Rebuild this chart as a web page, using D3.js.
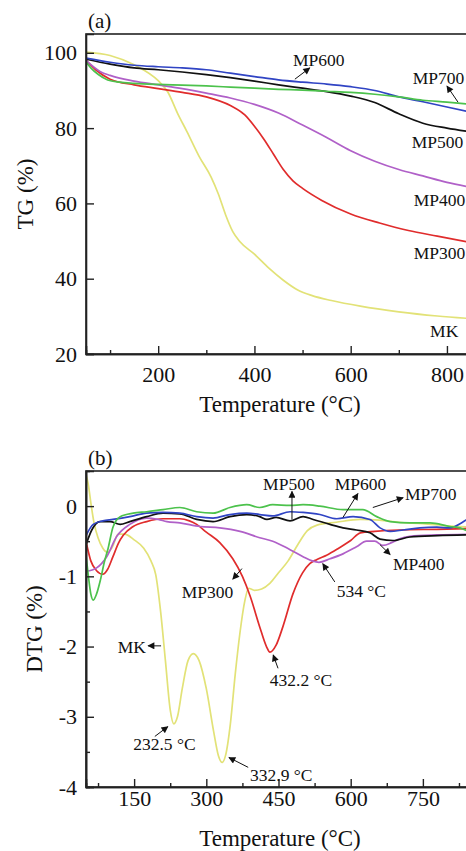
<!DOCTYPE html>
<html><head><meta charset="utf-8">
<script src="https://cdn.jsdelivr.net/npm/d3@7/dist/d3.min.js"></script>
<style>html,body{margin:0;padding:0;background:#fff;overflow:hidden}svg{display:block}svg text{font-family:"Liberation Serif","Times New Roman",serif !important;fill:#111}</style>
</head><body>
<svg id="c" width="466" height="851" font-family="Liberation Serif"></svg>
<script>
// ---------- Data ----------
const seriesNames = ["MK","MP300","MP400","MP500","MP600","MP700"];
const seriesColors = ["#e2e277","#e02c2c","#b060c8","#111111","#3044c4","#4cc24c"];

// TG (%) vs temperature (°C)
const tgMK    = [[50,100.2],[100,99.3],[150,96.8],[200,92.6],[220,89.6],[240,84],[260,79],[285,72.5],[310,67],[325,62.5],[340,57],[355,52.5],[370,49.8],[400,46.5],[430,42.8],[460,39.6],[490,37],[520,35.5],[560,34.2],[620,32.7],[700,31.2],[780,30.1],[850,29.4]];
const tgMP300 = [[50,98],[70,95.5],[100,93],[150,91.5],[200,90.5],[250,89.5],[300,88.3],[350,86],[380,83.5],[400,80.5],[420,77],[440,73],[460,69],[480,66],[500,64],[540,60.8],[600,57.2],[660,54.8],[720,52.8],[780,51.3],[850,49.6]];
const tgMP400 = [[50,98],[80,95],[100,94],[150,92.5],[200,91.5],[250,90.5],[300,89.3],[350,88],[400,86.3],[450,84],[500,80.8],[550,77.5],[600,74],[650,71.2],[700,69],[750,67.3],[800,65.6],[850,64.3]];
const tgMP500 = [[50,98.3],[100,97],[150,96],[200,95.5],[250,94.9],[300,94.2],[350,93.4],[400,92.5],[450,91.5],[500,90.6],[550,89.7],[600,88.5],[650,86.8],[700,83.8],[750,81.3],[800,80],[850,79]];
const tgMP600 = [[50,98.6],[100,97.5],[150,96.7],[200,96.3],[250,96],[300,95.5],[350,94.6],[400,93.7],[450,92.8],[500,92.2],[550,91.7],[600,91],[650,90],[700,88.3],[750,87],[800,85.6],[850,84.2]];
const tgMP700 = [[50,97.6],[60,96],[75,94.3],[95,92.8],[120,92.2],[150,91.9],[200,91.6],[250,91.4],[300,91.2],[350,90.9],[400,90.6],[450,90.3],[500,90.1],[550,89.8],[600,89.5],[650,89],[700,88.3],[750,87.4],[800,86.9],[850,86.3]];

// DTG (%) vs temperature (°C)
const dtgMK    = [[50,0.45],[55,0.3],[60,0.05],[67,-0.25],[75,-0.45],[85,-0.6],[95,-0.66],[105,-0.58],[117,-0.4],[130,-0.4],[150,-0.48],[170,-0.6],[185,-0.78],[195,-0.98],[205,-1.5],[215,-2.2],[225,-2.9],[232.5,-3.1],[240,-3.0],[250,-2.6],[262,-2.2],[273,-2.1],[285,-2.2],[300,-2.6],[315,-3.2],[325,-3.55],[332.9,-3.65],[340,-3.55],[350,-3.1],[360,-2.4],[370,-1.8],[380,-1.35],[388,-1.17],[400,-1.2],[415,-1.18],[432,-1.1],[450,-0.95],[470,-0.78],[490,-0.55],[510,-0.35],[530,-0.27],[570,-0.23],[620,-0.19],[660,-0.2],[700,-0.23],[750,-0.25],[800,-0.28],[850,-0.3]];
const dtgMP300 = [[50,-0.5],[60,-0.78],[72,-0.92],[85,-0.97],[95,-0.9],[106,-0.72],[118,-0.52],[127,-0.42],[148,-0.29],[176,-0.22],[210,-0.18],[245,-0.18],[265,-0.21],[280,-0.26],[300,-0.37],[328,-0.52],[355,-0.75],[375,-1.0],[391,-1.28],[411,-1.72],[425,-2.0],[432.2,-2.08],[445,-1.98],[459,-1.72],[480,-1.25],[500,-0.95],[515,-0.82],[530,-0.76],[550,-0.7],[575,-0.6],[600,-0.49],[620,-0.38],[650,-0.36],[700,-0.34],[780,-0.33],[850,-0.32]];
const dtgMP400 = [[50,-0.93],[72,-0.88],[93,-0.72],[114,-0.43],[141,-0.26],[176,-0.17],[200,-0.19],[218,-0.22],[245,-0.24],[287,-0.29],[328,-0.31],[370,-0.36],[411,-0.45],[438,-0.5],[474,-0.62],[501,-0.72],[520,-0.78],[534,-0.8],[557,-0.75],[584,-0.68],[612,-0.58],[633,-0.5],[650,-0.5],[667,-0.56],[685,-0.52],[700,-0.47],[723,-0.43],[780,-0.41],[850,-0.4]];
const dtgMP500 = [[50,-0.55],[62,-0.34],[79,-0.22],[100,-0.22],[121,-0.26],[141,-0.22],[176,-0.15],[210,-0.1],[245,-0.11],[280,-0.19],[314,-0.22],[349,-0.15],[384,-0.12],[411,-0.15],[426,-0.19],[445,-0.16],[474,-0.21],[501,-0.15],[522,-0.19],[557,-0.26],[584,-0.31],[612,-0.34],[640,-0.38],[661,-0.47],[688,-0.49],[723,-0.44],[780,-0.42],[850,-0.41]];
const dtgMP600 = [[50,-0.42],[65,-0.26],[85,-0.21],[106,-0.19],[141,-0.15],[176,-0.1],[210,-0.09],[245,-0.1],[280,-0.15],[314,-0.17],[349,-0.12],[384,-0.1],[411,-0.12],[438,-0.14],[474,-0.08],[501,-0.09],[536,-0.12],[571,-0.18],[605,-0.15],[640,-0.19],[661,-0.31],[682,-0.36],[709,-0.34],[744,-0.31],[779,-0.3],[806,-0.31],[830,-0.24],[850,-0.15]];
const dtgMP700 = [[50,-0.7],[55,-1.0],[60,-1.25],[65,-1.34],[72,-1.25],[80,-1.05],[88,-0.8],[96,-0.6],[106,-0.3],[121,-0.15],[148,-0.1],[176,-0.08],[210,-0.05],[245,-0.02],[280,-0.08],[314,-0.1],[349,-0.02],[384,0.02],[411,-0.02],[438,0.02],[474,0.01],[501,0.02],[536,0],[584,-0.05],[625,-0.05],[654,-0.15],[682,-0.22],[723,-0.24],[765,-0.24],[806,-0.29],[827,-0.31],[850,-0.38]];

const tgTicks = [20,40,60,80,100];
const tgXTicks = [200,400,600,800];
const tgXMinor = [100,300,500,700];
const dtgTicks = [-4,-3,-2,-1,0];
const dtgMinor = [-3.5,-2.5,-1.5,-0.5];
const dtgXTicks = [150,300,450,600,750];
const dtgXMinor = [75,225,375,525,675,825];

// Annotations: [text, textT, textV, arrowTailT, arrowTailV, arrowHeadT, arrowHeadV]
const tgNotes = [
  ["MP600",480,96.5,484,93.0,515,96.0],
  ["MP700",729,91.7,823,86.9,800,91.2],
  ["MP500",727,74.7],
  ["MP400",731,59.3],
  ["MP300",731,45.2],
  ["MK",765,24.5]
];
const dtgNotes = [
  ["MP500",418,0.236,478,-0.19,478,0.21],
  ["MP600",567,0.236,584,-0.16,615,0.18],
  ["MP700",713,0.09,646,-0.02,709,0.12],
  ["MP400",688,-0.91,661,-0.55,682,-0.69],
  ["MP300",249,-1.31,374,-0.89,355,-1.04],
  ["534 °C",571,-1.29,567,-1.08,542,-0.82],
  ["432.2 °C",432,-2.56,449,-2.31,439,-2.12],
  ["232.5 °C",148,-3.48,193,-3.28,220,-3.14],
  ["332.9 °C",391,-3.91,387,-3.72,347,-3.58],
  ["MK",116,-2.09,206,-1.99,179,-1.99]
];

// ---------- Drawing ----------
const FONT = "Liberation Serif";
const svg = d3.select("#c");
svg.append("defs").append("marker").attr("id","ah").attr("viewBox","0 0 10 10")
  .attr("refX",9).attr("refY",5).attr("markerWidth",9).attr("markerHeight",7)
  .attr("markerUnits","userSpaceOnUse").attr("orient","auto")
  .append("path").attr("d","M0,0 L10,5 L0,10 Z").attr("fill","#111");

const L = 86, R = 471;
function panel(cfg){
  const x = d3.scaleLinear().domain([50,850]).range([L,R]);
  const y = d3.scaleLinear().domain(cfg.ydom).range([cfg.bottom,cfg.top]);
  const g = svg.append("g").attr("font-family",FONT);
  const clipId = "clip"+cfg.id;
  g.append("clipPath").attr("id",clipId).append("rect")
    .attr("x",L).attr("y",cfg.top).attr("width",R-L).attr("height",cfg.bottom-cfg.top);
  const line = d3.line().x(d=>x(d[0])).y(d=>y(d[1])).curve(d3.curveMonotoneX);
  const lg = g.append("g").attr("clip-path",`url(#${clipId})`);
  cfg.series.forEach((s,i)=>{
    lg.append("path").datum(s).attr("d",line).attr("fill","none")
      .attr("stroke",seriesColors[i]).attr("stroke-width",1.7).attr("stroke-linejoin","round");
  });
  g.append("rect").attr("x",L).attr("y",cfg.top).attr("width",R-L).attr("height",cfg.bottom-cfg.top)
    .attr("fill","none").attr("stroke","#222").attr("stroke-width",1.6);
  g.append("g").attr("transform",`translate(0,${cfg.bottom})`)
    .call(d3.axisBottom(x).tickValues(cfg.xticks).tickSize(-8).tickPadding(cfg.xpad).tickFormat(d3.format("d")));
  g.append("g").attr("transform",`translate(0,${cfg.bottom})`)
    .call(d3.axisBottom(x).tickValues(cfg.xminor).tickSize(-4).tickFormat(""));
  g.append("g").attr("transform",`translate(${L},0)`)
    .call(d3.axisLeft(y).tickValues(cfg.yticks).tickSize(-8).tickPadding(9).tickFormat(d=>String(d)));
  if(cfg.yminor){
    g.append("g").attr("transform",`translate(${L},0)`)
      .call(d3.axisLeft(y).tickValues(cfg.yminor).tickSize(-4).tickFormat(""));
  }
  g.selectAll("g").attr("font-family",FONT);
  g.selectAll(".domain").attr("stroke","#222").attr("stroke-width",1.6);
  g.selectAll(".tick line").attr("stroke","#222").attr("stroke-width",1.4);
  g.selectAll(".tick text").attr("font-size",22).attr("fill","#111");
  g.append("text").attr("x",L+2).attr("y",cfg.top-6).attr("font-size",21).text(cfg.tag);
  g.append("text").attr("x",280).attr("y",cfg.xtitleY).attr("text-anchor","middle").attr("font-size",23).text("Temperature (°C)");
  g.append("text").attr("transform",`translate(${cfg.ytitleX},${(cfg.top+cfg.bottom)/2}) rotate(-90)`)
    .attr("text-anchor","middle").attr("font-size",23).text(cfg.ytitle);
  cfg.notes.forEach(n=>{
    g.append("text").attr("x",x(n[1])).attr("y",y(n[2])).attr("font-size",17.5).text(n[0]);
    if(n.length>3){
      g.append("line").attr("x1",x(n[3])).attr("y1",y(n[4])).attr("x2",x(n[5])).attr("y2",y(n[6]))
        .attr("stroke","#111").attr("stroke-width",1).attr("marker-end","url(#ah)");
    }
  });
}

panel({id:"a",top:34,bottom:354,ydom:[20,105],
  series:[tgMK,tgMP300,tgMP400,tgMP500,tgMP600,tgMP700],
  xticks:tgXTicks,xminor:tgXMinor,yticks:tgTicks,yminor:null,xpad:12,
  tag:"(a)",xtitleY:412,ytitle:"TG (%)",ytitleX:33,notes:tgNotes});

panel({id:"b",top:471,bottom:787,ydom:[-4,0.5],
  series:[dtgMK,dtgMP300,dtgMP400,dtgMP500,dtgMP600,dtgMP700],
  xticks:dtgXTicks,xminor:dtgXMinor,yticks:dtgTicks,yminor:dtgMinor,xpad:3,
  tag:"(b)",xtitleY:846,ytitle:"DTG (%)",ytitleX:42,notes:dtgNotes});
</script>
</body></html>
